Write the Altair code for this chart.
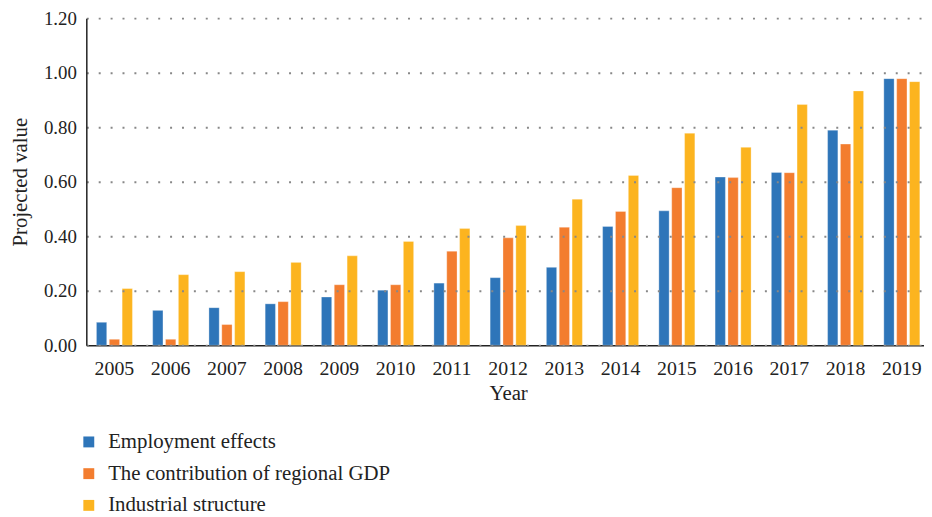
import altair as alt
import pandas as pd

years = [str(y) for y in range(2005, 2020)]
series = ["Employment effects", "The contribution of regional GDP", "Industrial structure"]
employment = [0.084, 0.128, 0.138, 0.152, 0.177, 0.202, 0.228, 0.248, 0.286, 0.436, 0.493, 0.617, 0.634, 0.789, 0.978]
gdp = [0.022, 0.022, 0.076, 0.160, 0.222, 0.222, 0.345, 0.394, 0.433, 0.491, 0.578, 0.615, 0.633, 0.738, 0.978]
industrial = [0.208, 0.259, 0.270, 0.304, 0.328, 0.381, 0.428, 0.439, 0.536, 0.623, 0.778, 0.726, 0.883, 0.933, 0.967]
colors = ["#2E75B9", "#F37D2F", "#FCB41F"]

rows = []
for name, vals in zip(series, [employment, gdp, industrial]):
    for y, v in zip(years, vals):
        rows.append({"Year": y, "Series": name, "Value": v})
df = pd.DataFrame(rows)

FONT = "Liberation Serif"

chart = alt.Chart(df).mark_bar(stroke="white", strokeWidth=0.6, strokeOpacity=0.5).encode(
    x=alt.X("Year:N", sort=years,
            scale=alt.Scale(paddingInner=0.36, paddingOuter=0.18, range=[0, 851]),
            axis=alt.Axis(title="Year", labelAngle=0, ticks=False, domainColor="#222",
                          domainWidth=1.5, labelFontSize=20, titleFontSize=21,
                          labelPadding=13, titlePadding=5, labelColor="#222",
                          titleColor="#222", titleFontWeight="normal")),
    xOffset=alt.XOffset("Series:N", sort=series, scale=alt.Scale(paddingInner=0.2)),
    y=alt.Y("Value:Q",
            scale=alt.Scale(domain=[0, 1.2], nice=False),
            axis=alt.Axis(title="Projected value", values=[0, 0.2, 0.4, 0.6, 0.8, 1.0, 1.2],
                          format=".2f", ticks=False, domainColor="#222", domainWidth=1.5,
                          grid=True, gridDash=[2, 10], gridColor="#888", gridWidth=2,
                          labelFontSize=19, titleFontSize=21, labelPadding=10,
                          titlePadding=13, labelColor="#222", titleColor="#222",
                          titleFontWeight="normal", zindex=1)),
    color=alt.Color("Series:N", sort=series,
                    scale=alt.Scale(domain=series, range=colors),
                    legend=alt.Legend(title=None, orient="none", legendX=-8, legendY=417,
                                      direction="vertical", symbolType="square",
                                      symbolSize=121, symbolStrokeWidth=0,
                                      labelFontSize=21, labelColor="#222", labelLimit=600,
                                      rowPadding=10, labelOffset=9)),
).properties(
    width=845, height=330,
    autosize=alt.AutoSizeParams(type="none"),
    padding={"left": 79, "top": 8, "right": 0, "bottom": 170},
).configure(font=FONT).configure_view(stroke=None)

chart.save("out.html", embed_options={"renderer": "svg", "actions": False})
